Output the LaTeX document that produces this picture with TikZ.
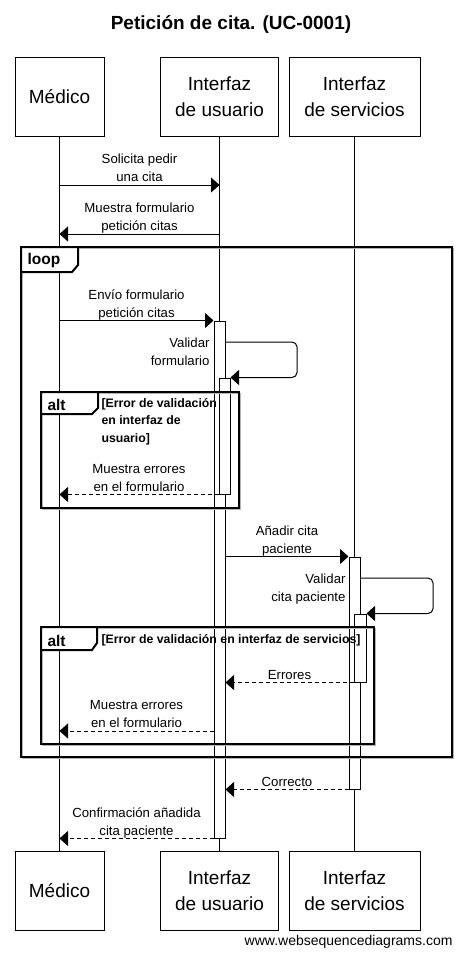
\documentclass[tikz,border=0pt]{standalone}
\usepackage{fontspec}
\setmainfont{Liberation Sans}
\usetikzlibrary{arrows.meta}

\definecolor{shadowgray}{HTML}{b4b4b4}

\begin{document}
\begin{tikzpicture}[x=1pt, y=-1pt, line width=1pt,
    actor/.style={draw, fill=white, minimum height=79pt, inner sep=0, align=center, font=\fontsize{19}{26}\selectfont},
    actbar/.style={draw, fill=white, minimum width=11pt, inner sep=0},
    msg/.style={-{Triangle[length=8.5pt,width=15pt]}},
    reply/.style={msg, dash pattern=on 4pt off 3pt},
    msgtxt/.style={font=\fontsize{13.2}{18}\selectfont, align=center, inner sep=0, text depth=0pt},
    frametag/.style={font=\bfseries\fontsize{15.5}{18}\selectfont, inner sep=0, anchor=west},
    cond/.style={font=\bfseries\fontsize{12.3}{17.5}\selectfont, align=left, inner sep=0, anchor=north west, text depth=0pt},
    frm/.style={line width=2pt},
    frmshadow/.style={line width=1.5pt, draw=shadowgray}]
    \useasboundingbox (0,0) rectangle (462,956);

    \node[font=\bfseries\fontsize{19}{22}\selectfont] (title) at (231,25) {Petición de cita. (UC-0001)};

    % participants
    \node[actor, minimum width=89pt] (medTop) at (59.5,96.5) {Médico};
    \node[actor, minimum width=118pt] (usrTop) at (219.5,96.5) {Interfaz\\de usuario};
    \node[actor, minimum width=131pt] (srvTop) at (354.5,96.5) {Interfaz\\de servicios};
    \node[actor, minimum width=89pt] (medBot) at (59.5,891) {Médico};
    \node[actor, minimum width=118pt] (usrBot) at (219.5,891) {Interfaz\\de usuario};
    \node[actor, minimum width=131pt] (srvBot) at (354.5,891) {Interfaz\\de servicios};

    \draw (medTop) -- (medBot);
    \draw (usrTop) -- (usrBot);
    \draw (srvTop) -- (srvBot);

    % activations
    \node[actbar, minimum height=517pt] (act1) at (219.5,579.5) {};
    \node[actbar, minimum height=116pt] (act2) at (224.5,436) {};
    \node[actbar, minimum height=232pt] (actA) at (354.5,673) {};
    \node[actbar, minimum height=68pt, minimum width=12pt] (actB) at (360,648) {};

    % frames
    \draw[frmshadow] (22.5,248.5) rectangle (453.5,758.5);
    \draw[frm] (21,247) rectangle (452,757);
    \draw[frm, fill=white] (21,247) -- (78,247) -- (78,265) -- (72,272) -- (21,272) -- cycle;
    \node[frametag] (loopTag) at (27,260) {loop};

    \draw[frmshadow] (42.5,393.5) rectangle (240.5,509.5);
    \draw[frm] (41,392) rectangle (239,508);
    \draw[frm, fill=white] (41,392) -- (98,392) -- (98,408) -- (92,414) -- (41,414) -- cycle;
    \node[frametag] (altTag1) at (47,405) {alt};
    \node[cond] (cond1) at (101,397.5) {[Error de validación\\en interfaz de\\usuario]};

    \draw[frmshadow] (42.5,628.5) rectangle (375.5,745.5);
    \draw[frm] (41,627) rectangle (374,744);
    \draw[frm, fill=white] (41,627) -- (97,627) -- (97,643) -- (92,650) -- (41,650) -- cycle;
    \node[frametag] (altTag2) at (47,640.5) {alt};
    \node[cond] (cond2) at (101,633.5) {[Error de validación en interfaz de servicios]};

    % messages
    \coordinate (y1) at (0,185);
    \coordinate (y2) at (0,234);
    \coordinate (y9) at (0,731);
    \coordinate (v1turn) at (297,342);
    \coordinate (v2turn) at (433,578);

    \path[msg] (medTop |- y1) edge node[msgtxt, above=3pt] {Solicita pedir\\una cita} (usrTop |- y1);
    \path[msg] (usrTop |- y2) edge node[msgtxt, above=3pt] {Muestra formulario\\petición citas} (medTop |- y2);
    \path[msg] (medTop |- act1.north) edge node[msgtxt, above=3pt] {Envío formulario\\petición citas} (act1.north west);
    \draw[msg, rounded corners=5pt] (act1.east |- v1turn) -- (v1turn) |- (act2.north east);
    \node[msgtxt, align=right, anchor=south east] (lblV1) at (210,366) {Validar\\formulario};
    \path[reply] (act2.south west) edge node[msgtxt, above=3pt] {Muestra errores\\en el formulario} (medTop |- act2.south);
    \path[msg] (act1.east |- actA.north) edge node[msgtxt, above=3pt] {Añadir cita\\paciente} (actA.north west);
    \draw[msg, rounded corners=5pt] (actA.east |- v2turn) -- (v2turn) |- (actB.north east);
    \node[msgtxt, align=right, anchor=south east] (lblV2) at (346,602) {Validar\\cita paciente};
    \path[reply] (actB.south west) edge node[msgtxt, above=3pt] {Errores} (act1.east |- actB.south);
    \path[reply] (act1.west |- y9) edge node[msgtxt, above=3pt] {Muestra errores\\en el formulario} (medTop |- y9);
    \path[reply] (actA.south west) edge node[msgtxt, above=3pt] {Correcto} (act1.east |- actA.south);
    \path[reply] (act1.south west) edge node[msgtxt, above=3pt] {Confirmación añadida\\cita paciente} (medTop |- act1.south);

    \node[font=\fontsize{14}{16}\selectfont, anchor=east, inner sep=0] (footer) at (453,942) {www.websequencediagrams.com};
\end{tikzpicture}
\end{document}
